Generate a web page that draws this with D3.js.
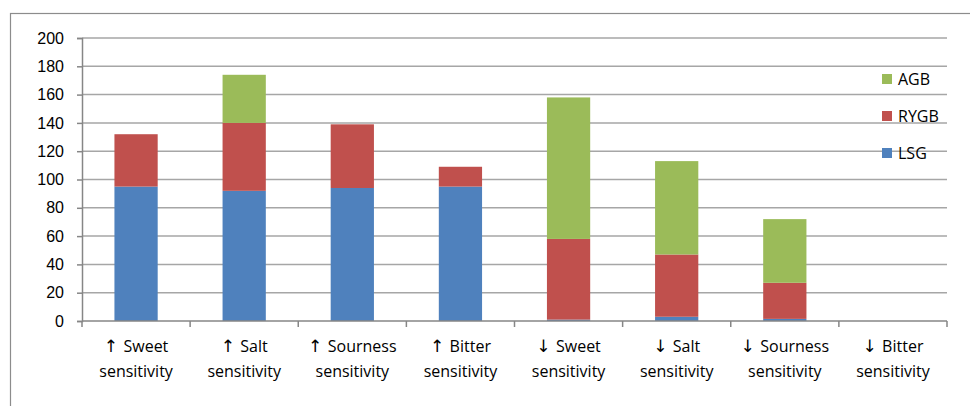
<!DOCTYPE html>
<html>
<head>
<meta charset="utf-8">
<script src="https://cdn.jsdelivr.net/npm/d3@7"></script>
<style>
  body { margin: 0; background: #fff; }
  svg { display: block; font-family: "Open Sans", "Noto Sans", sans-serif; }
</style>
</head>
<body>
<div id="chart"></div>
<script>
// categorias e séries
const arrows = ["↑", "↑", "↑", "↑", "↓", "↓", "↓", "↓"];
const categories = [
  "Sweet|sensitivity", "Salt|sensitivity", "Sourness|sensitivity", "Bitter|sensitivity",
  "Sweet |sensitivity", "Salt |sensitivity", "Sourness |sensitivity", "Bitter |sensitivity"
];
const lsg  = [95, 92, 94, 95, 1, 3, 1.5, 0];
const rygb = [37, 48, 45, 14, 57, 44, 25.5, 0];
const agb  = [0, 34, 0, 0, 100, 66, 45, 0];
const seriesNames = ["LSG", "RYGB", "AGB"];
const colors = { LSG: "#4f81bd", RYGB: "#c0504d", AGB: "#9bbb59" };
const yTicks = [0, 20, 40, 60, 80, 100, 120, 140, 160, 180, 200];

const width = 970, height = 406;
const margin = { top: 38, right: 23, bottom: 85, left: 82 };

const svg = d3.select("#chart").append("svg")
    .attr("width", width)
    .attr("height", height);

// moldura externa
svg.append("rect")
    .attr("x", 10.5).attr("y", 13.5)
    .attr("width", width + 10).attr("height", height + 10)
    .attr("fill", "none")
    .attr("stroke", "#8c8c8c")
    .attr("stroke-width", 1.2);

const table = categories.map((c, i) => ({ cat: c, LSG: lsg[i], RYGB: rygb[i], AGB: agb[i] }));
const stacked = d3.stack().keys(seriesNames)(table);

const x = d3.scaleBand()
    .domain(categories)
    .range([margin.left, width - margin.right])
    .paddingInner(0.6)
    .paddingOuter(0.3);

const y = d3.scaleLinear()
    .domain([0, 200])
    .range([height - margin.bottom, margin.top]);

// grade
svg.append("g")
    .selectAll("line")
    .data(yTicks.filter(d => d > 0))
    .enter().append("line")
    .attr("x1", margin.left).attr("x2", width - margin.right)
    .attr("y1", d => y(d)).attr("y2", d => y(d))
    .attr("stroke", "#a6a6a6")
    .attr("stroke-width", 1.5);

// barras
svg.append("g")
    .selectAll("g")
    .data(stacked)
    .enter().append("g")
    .attr("fill", d => colors[d.key])
    .selectAll("rect")
    .data(d => d)
    .enter().append("rect")
    .attr("x", d => x(d.data.cat))
    .attr("width", x.bandwidth())
    .attr("y", d => y(d[1]))
    .attr("height", d => y(d[0]) - y(d[1]));

// eixo Y
const yAxis = svg.append("g")
    .attr("transform", `translate(${margin.left},0)`)
    .call(d3.axisLeft(y).tickValues(yTicks).tickSize(5).tickPadding(13));
yAxis.select(".domain").attr("stroke", "#868686").attr("stroke-width", 1.5);
yAxis.selectAll(".tick line").attr("stroke", "#868686").attr("stroke-width", 1.5);
yAxis.selectAll("text")
    .attr("fill", "#000")
    .style("font-size", "16px");

// eixo X
const xTickPos = d3.range(categories.length + 1).map(i => margin.left + i * (width - margin.left - margin.right) / categories.length);
const xAxisG = svg.append("g");
xAxisG.append("line")
    .attr("x1", margin.left).attr("x2", width - margin.right)
    .attr("y1", y(0)).attr("y2", y(0))
    .attr("stroke", "#868686").attr("stroke-width", 1.5);
xAxisG.selectAll(".xt")
    .data(xTickPos)
    .enter().append("line")
    .attr("x1", d => d).attr("x2", d => d)
    .attr("y1", y(0)).attr("y2", y(0) + 6)
    .attr("stroke", "#868686").attr("stroke-width", 1.5);

const labels = xAxisG.selectAll(".xl")
    .data(categories)
    .enter().append("text")
    .attr("text-anchor", "middle")
    .attr("fill", "#000")
    .style("font-size", "16px");
labels.each(function(d, i) {
    const parts = d.trim().split("|");
    const cx = x(d) + x.bandwidth() / 2;
    const t = d3.select(this);
    const first = t.append("tspan").attr("x", cx).attr("y", y(0) + 31);
    first.append("tspan").style("font-family", "DejaVu Sans").style("font-size", "17px").text(arrows[i] + " ");
    first.append("tspan").text(parts[0].trim());
    t.append("tspan").attr("x", cx).attr("y", y(0) + 56).text(parts[1]);
});

// legenda
const legend = svg.append("g");
const legendOrder = ["AGB", "RYGB", "LSG"];
legendOrder.forEach((k, i) => {
    const ly = 79 + i * 37;
    legend.append("rect")
        .attr("x", 882).attr("y", ly - 5)
        .attr("width", 10).attr("height", 10)
        .attr("fill", colors[k]);
    legend.append("text")
        .attr("x", 898).attr("y", ly + 6)
        .attr("fill", "#000")
        .style("font-size", "16px")
        .text(k);
});
</script>
</body>
</html>
